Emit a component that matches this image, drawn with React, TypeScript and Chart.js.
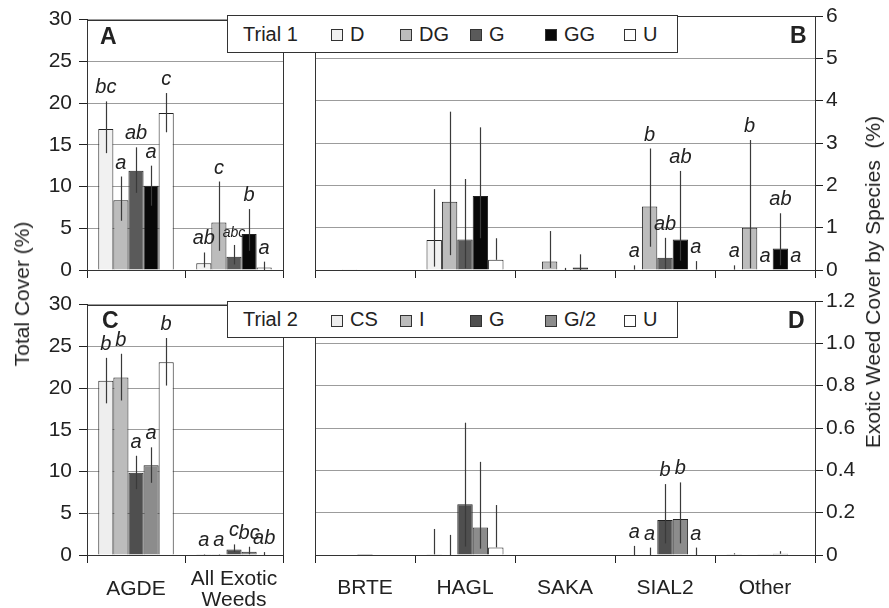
import React, { useEffect, useRef } from 'react';
import { Chart, registerables } from 'chart.js';

Chart.register(...registerables);

const FONT = "'Liberation Sans', Arial, Helvetica, sans-serif";
const INK = '#222222';

// ---------- categories, series, ticks ----------
const totalCategories: any[] = ['AGDE', ['All Exotic', 'Weeds']];
const speciesCategories: any[] = ['BRTE', 'HAGL', 'SAKA', 'SIAL2', 'Other'];
const trial1Series = ['D', 'DG', 'G', 'GG', 'U'];
const trial2Series = ['CS', 'I', 'G', 'G/2', 'U'];
const trial1Colors = ['#f1f1f1', '#bcbcbc', '#5a5a5a', '#080808', '#ffffff'];
const trial2Colors = ['#eeeeee', '#bcbcbc', '#4f4f4f', '#8c8c8c', '#ffffff'];
const totalTicks = [0, 5, 10, 15, 20, 25, 30];
const species1Ticks = [0, 1, 2, 3, 4, 5, 6];
const species2Ticks = [0, 0.2, 0.4, 0.6, 0.8, 1.0, 1.2];

// ---------- Panel A: Trial 1, total cover (series x [AGDE, All Exotic Weeds]) ----------
const valuesA = [[16.9, 0.8], [8.35, 5.7], [11.9, 1.6], [10.1, 4.3], [18.8, 0.3]];
const plusA = [[3.3, 1.3], [2.85, 4.9], [2.8, 1.4], [2.4, 3.0], [2.4, 0.7]];
const minusA = [[2.9, 0.5], [2.45, 3.4], [2.65, 0.93], [2.4, 2.0], [2.3, 0.3]];
const lettersA = [['bc', 'ab'], ['a', 'c'], ['ab', 'abc'], ['a', 'b'], ['c', 'a']];

// ---------- Panel B: Trial 1, exotic weed cover by species ----------
const valuesB = [
  [0, 0.71, 0, 0.01, 0.01],
  [0.02, 1.61, 0.2, 1.5, 1.0],
  [0, 0.72, 0, 0.29, 0.01],
  [0.01, 1.75, 0.06, 0.72, 0.51],
  [0, 0.24, 0, 0.01, 0],
];
const plusB = [
  [0, 1.2, 0, 0.1, 0.1],
  [0, 2.13, 0.72, 1.37, 2.07],
  [0, 1.43, 0.05, 0.47, 0],
  [0, 1.62, 0.31, 1.62, 0.83],
  [0, 0.51, 0, 0.2, 0],
];
const minusB = [
  [0, 0.63, 0, 0, 0],
  [0, 1.26, 0.15, 0.95, 0.96],
  [0, 0.68, 0, 0.27, 0],
  [0, 1.0, 0.06, 0.5, 0.4],
  [0, 0, 0, 0, 0],
];
const lettersB = [
  ['', '', '', 'a', 'a'],
  ['', '', '', 'b', 'b'],
  ['', '', '', 'ab', 'a'],
  ['', '', '', 'ab', 'ab'],
  ['', '', '', 'a', 'a'],
];

// ---------- Panel C: Trial 2, total cover ----------
const valuesC = [[20.87, 0.03], [21.26, 0.03], [9.84, 0.67], [10.75, 0.39], [23.1, 0.05]];
const plusC = [[2.75, 0.05], [2.85, 0.05], [2.05, 0.6], [2.15, 0.6], [2.9, 0.3]];
const minusC = [[2.7, 0], [2.75, 0], [1.95, 0.3], [2.1, 0.3], [2.8, 0.05]];
const lettersC = [['b', 'a'], ['b', 'a'], ['a', 'c'], ['a', 'bc'], ['b', 'ab']];

// ---------- Panel D: Trial 2, exotic weed cover by species ----------
const valuesD = [
  [0, 0.003, 0, 0, 0.003],
  [0, 0, 0, 0, 0],
  [0.005, 0.24, 0, 0.165, 0.003],
  [0, 0.13, 0, 0.17, 0.006],
  [0, 0.036, 0, 0, 0],
];
const plusD = [
  [0, 0.12, 0, 0.043, 0.005],
  [0, 0.095, 0, 0.035, 0],
  [0, 0.385, 0, 0.17, 0],
  [0, 0.31, 0, 0.173, 0.012],
  [0, 0.2, 0, 0.035, 0],
];
const minusD = [
  [0, 0, 0, 0, 0],
  [0, 0, 0, 0, 0],
  [0, 0.2, 0, 0.11, 0],
  [0, 0.1, 0, 0.115, 0],
  [0, 0, 0, 0, 0],
];
const lettersD = [
  ['', '', '', 'a', ''],
  ['', '', '', 'a', ''],
  ['', '', '', 'b', ''],
  ['', '', '', 'b', ''],
  ['', '', '', 'a', ''],
];

const fmtInt = (v: number) => String(Math.round(v));
const fmtDec = (v: number) => (Math.abs(v) < 1e-9 ? '0' : v.toFixed(1));

function buildConfig(p: any): any {
  const overlay = {
    id: 'errLetters' + Math.random().toString(36).slice(2),
    afterDatasetsDraw(chart: any) {
      const ctx = chart.ctx;
      const ys = chart.scales.y;
      ctx.save();
      p.series.forEach((_: string, i: number) => {
        const meta = chart.getDatasetMeta(i);
        meta.data.forEach((bar: any, j: number) => {
          const v = p.values[i][j];
          const up = p.plus[i][j];
          const dn = p.minus[i][j];
          const yHi = ys.getPixelForValue(v + up);
          if (up > 0 || dn > 0) {
            const x = Math.round(bar.x) + 0.5;
            ctx.strokeStyle = '#3a3a3a';
            ctx.lineWidth = 1.2;
            ctx.beginPath();
            ctx.moveTo(x, yHi);
            ctx.lineTo(x, ys.getPixelForValue(Math.max(0, v - dn)));
            ctx.stroke();
          }
          const t = p.letters[i][j];
          if (t) {
            const size = t.length > 2 ? 14 : 20;
            ctx.font = `italic ${size}px ${FONT}`;
            ctx.fillStyle = INK;
            ctx.textAlign = 'center';
            ctx.textBaseline = 'alphabetic';
            ctx.fillText(t, bar.x, yHi - 8);
          }
        });
      });
      ctx.restore();
    },
    afterDraw(chart: any) {
      const ctx = chart.ctx;
      const { left, right, top, bottom } = chart.chartArea;
      ctx.save();
      ctx.strokeStyle = '#333333';
      ctx.lineWidth = 1;
      const l = Math.round(left) + 0.5;
      const t = Math.round(top) + 0.5;
      ctx.strokeRect(l, t, Math.round(right) - Math.round(left), Math.round(bottom) - Math.round(top));
      ctx.restore();
    },
  };

  return {
    type: 'bar',
    data: {
      labels: p.categories,
      datasets: p.series.map((name: string, i: number) => ({
        label: name,
        data: p.values[i],
        backgroundColor: p.colors[i],
        borderColor: '#222222',
        borderWidth: 1,
        categoryPercentage: 0.77,
        barPercentage: 1.0,
      })),
    },
    options: {
      animation: false,
      responsive: false,
      maintainAspectRatio: false,
      layout: { padding: p.padding },
      plugins: { legend: { display: false }, tooltip: { enabled: false } },
      scales: {
        x: {
          type: 'category',
          offset: true,
          grid: { offset: true, drawOnChartArea: false, drawTicks: true, tickLength: 8, tickColor: INK },
          border: { display: true, color: INK, width: 1 },
          ticks: {
            display: p.showLabels,
            color: INK,
            font: { family: FONT, size: 21, lineHeight: 1.0 },
            padding: p.labelPad,
            crossAlign: 'center',
            maxRotation: 0,
            minRotation: 0,
            autoSkip: false,
          },
          afterFit: (s: any) => { s.height = p.xHeight; },
        },
        y: {
          type: 'linear',
          position: p.side,
          min: p.ticks[0],
          max: p.ticks[p.ticks.length - 1],
          afterBuildTicks: (s: any) => { s.ticks = p.ticks.map((v: number) => ({ value: v })); },
          grid: { color: '#9c9c9c', lineWidth: 1, drawTicks: true, tickLength: 8, tickColor: INK },
          border: { display: true, color: INK, width: 1 },
          ticks: {
            color: INK,
            font: { family: FONT, size: 21 },
            padding: p.tickPad,
            callback: (v: any) => p.fmt(Number(v)),
          },
          afterFit: (s: any) => { s.width = p.yWidth; },
        },
      },
    },
    plugins: [overlay],
  };
}

function ChartPanel(props: any) {
  const ref = useRef<HTMLCanvasElement>(null);
  useEffect(() => {
    const chart = new Chart(ref.current as HTMLCanvasElement, props.build());
    return () => chart.destroy();
  }, []);
  return (
    <canvas
      ref={ref}
      width={props.width}
      height={props.height}
      style={{ position: 'absolute', left: props.left, top: props.top, width: props.width, height: props.height }}
    />
  );
}

function Legend(props: any) {
  const cols = [103, 172, 242, 317, 396];
  return (
    <div
      style={{
        position: 'absolute', left: 227, top: props.top, width: 451, height: props.height,
        boxSizing: 'border-box', border: '1px solid #333', background: '#fff',
      }}
    >
      <div style={{ position: 'absolute', left: 15, top: 0, height: '100%', display: 'flex', alignItems: 'center', fontSize: 20, whiteSpace: 'nowrap' }}>
        {props.title}
      </div>
      {props.series.map((s: string, i: number) => (
        <div key={s + i} style={{ position: 'absolute', left: cols[i], top: 0, height: '100%', display: 'flex', alignItems: 'center', fontSize: 20, whiteSpace: 'nowrap' }}>
          <span style={{ display: 'inline-block', width: 10, height: 10, border: '1px solid #333', background: props.colors[i], marginRight: 7, marginTop: 2 }} />
          <span>{s}</span>
        </div>
      ))}
    </div>
  );
}

function PanelTag(props: any) {
  return (
    <div style={{ position: 'absolute', left: props.x, top: props.y, fontSize: 23, fontWeight: 'bold', lineHeight: '23px' }}>
      {props.children}
    </div>
  );
}

function VTitle(props: any) {
  return (
    <div
      style={{
        position: 'absolute', left: props.x, top: props.y, fontSize: 21, whiteSpace: 'pre', lineHeight: '24px',
        transform: 'translate(-50%, -50%) rotate(-90deg)',
      }}
    >
      {props.children}
    </div>
  );
}

export default function App() {
  return (
    <div style={{ position: 'fixed', left: 0, top: 0, width: 889, height: 608, background: '#fff', fontFamily: FONT, color: INK, overflow: 'hidden' }}>
      <ChartPanel left={0} top={0} width={300} height={290} build={() => buildConfig({
        categories: totalCategories, series: trial1Series, colors: trial1Colors,
        values: valuesA, plus: plusA, minus: minusA, letters: lettersA,
        ticks: totalTicks, fmt: fmtInt, side: 'left', tickPad: 7,
        padding: { left: 0, right: 17, top: 16, bottom: 0 }, yWidth: 87, xHeight: 20,
        showLabels: false, labelPad: 0,
      })} />
      <ChartPanel left={300} top={0} width={589} height={290} build={() => buildConfig({
        categories: speciesCategories, series: trial1Series, colors: trial1Colors,
        values: valuesB, plus: plusB, minus: minusB, letters: lettersB,
        ticks: species1Ticks, fmt: fmtInt, side: 'right', tickPad: 3,
        padding: { left: 15, right: 0, top: 16, bottom: 0 }, yWidth: 74, xHeight: 20,
        showLabels: false, labelPad: 0,
      })} />
      <ChartPanel left={0} top={285} width={300} height={323} build={() => buildConfig({
        categories: totalCategories, series: trial2Series, colors: trial2Colors,
        values: valuesC, plus: plusC, minus: minusC, letters: lettersC,
        ticks: totalTicks, fmt: fmtInt, side: 'left', tickPad: 7,
        padding: { left: 0, right: 17, top: 16, bottom: 0 }, yWidth: 87, xHeight: 53,
        showLabels: true, labelPad: 16,
      })} />
      <ChartPanel left={300} top={285} width={589} height={323} build={() => buildConfig({
        categories: speciesCategories, series: trial2Series, colors: trial2Colors,
        values: valuesD, plus: plusD, minus: minusD, letters: lettersD,
        ticks: species2Ticks, fmt: fmtDec, side: 'right', tickPad: 3,
        padding: { left: 15, right: 0, top: 16, bottom: 0 }, yWidth: 74, xHeight: 53,
        showLabels: true, labelPad: 25,
      })} />

      <Legend top={15} height={38} title="Trial 1" series={trial1Series} colors={trial1Colors} />
      <Legend top={301} height={37} title="Trial 2" series={trial2Series} colors={trial2Colors} />

      <PanelTag x={100} y={25}>A</PanelTag>
      <PanelTag x={790} y={24}>B</PanelTag>
      <PanelTag x={102} y={309}>C</PanelTag>
      <PanelTag x={788} y={309}>D</PanelTag>

      <VTitle x={22} y={294}>Total Cover (%)</VTitle>
      <VTitle x={873} y={282}>{'Exotic Weed Cover by Species  (%)'}</VTitle>
    </div>
  );
}
